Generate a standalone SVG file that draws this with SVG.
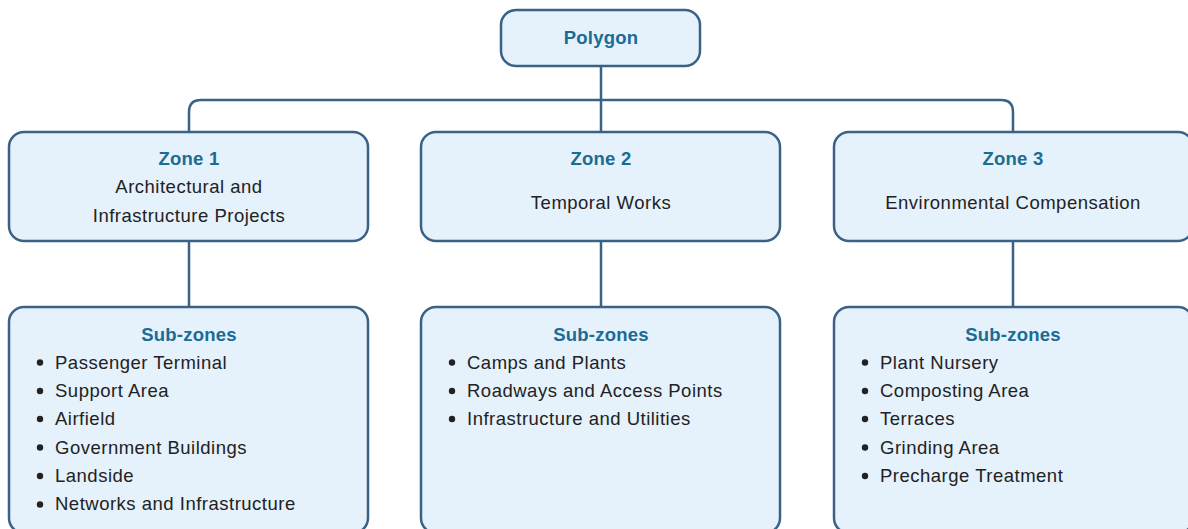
<svg xmlns="http://www.w3.org/2000/svg" width="1188" height="529" viewBox="0 0 1188 529">
<style>
.box{fill:#e5f1fb;stroke:#3a6186;stroke-width:2.5}
.line{fill:none;stroke:#3a6186;stroke-width:2.5}
.title{font-family:"Liberation Sans",Arial,sans-serif;font-weight:bold;font-size:18.5px;letter-spacing:0.2px;fill:#1a6c93;text-anchor:middle}
.body{font-family:"Liberation Sans",Arial,sans-serif;font-size:18.5px;letter-spacing:0.5px;fill:#222}
.mid{text-anchor:middle}
.bul{fill:#222}
</style>
<rect width="1188" height="529" fill="#ffffff"/>
<g id="connectors">
<path class="line" d="M601 66 V132"/>
<path class="line" d="M189 132 V112 Q189 100 201 100 H1001 Q1013 100 1013 112 V132"/>
<path class="line" d="M189 241 V307"/>
<path class="line" d="M601 241 V307"/>
<path class="line" d="M1013 241 V307"/>
</g>
<g id="polygon">
<rect class="box" x="501" y="10" width="199" height="56" rx="15"/>
<text class="title" x="601" y="44">Polygon</text>
</g>
<g id="zone1">
<rect class="box" x="9" y="132" width="359" height="109" rx="15"/>
<text class="title" x="189" y="165">Zone 1</text>
<text class="body mid" x="189" y="193">Architectural and</text>
<text class="body mid" x="189" y="222">Infrastructure Projects</text>
</g>
<g id="zone2">
<rect class="box" x="421" y="132" width="359" height="109" rx="15"/>
<text class="title" x="601" y="165">Zone 2</text>
<text class="body mid" x="601" y="209">Temporal Works</text>
</g>
<g id="zone3">
<rect class="box" x="834" y="132" width="359" height="109" rx="15"/>
<text class="title" x="1013" y="165">Zone 3</text>
<text class="body mid" x="1013" y="209">Environmental Compensation</text>
</g>
<g id="subzones1">
<rect class="box" x="9" y="307" width="359" height="226" rx="15"/>
<text class="title" x="189" y="341">Sub-zones</text>
<g class="bul">
<circle cx="40" cy="362.5" r="3.2"/><circle cx="40" cy="391" r="3.2"/><circle cx="40" cy="419" r="3.2"/><circle cx="40" cy="447.5" r="3.2"/><circle cx="40" cy="476" r="3.2"/><circle cx="40" cy="504.5" r="3.2"/>
</g>
<text class="body" x="55" y="369">Passenger Terminal</text>
<text class="body" x="55" y="397">Support Area</text>
<text class="body" x="55" y="425">Airfield</text>
<text class="body" x="55" y="454">Government Buildings</text>
<text class="body" x="55" y="482">Landside</text>
<text class="body" x="55" y="510">Networks and Infrastructure</text>
</g>
<g id="subzones2">
<rect class="box" x="421" y="307" width="359" height="226" rx="15"/>
<text class="title" x="601" y="341">Sub-zones</text>
<g class="bul">
<circle cx="452" cy="362.5" r="3.2"/><circle cx="452" cy="391" r="3.2"/><circle cx="452" cy="419" r="3.2"/>
</g>
<text class="body" x="467" y="369">Camps and Plants</text>
<text class="body" x="467" y="397">Roadways and Access Points</text>
<text class="body" x="467" y="425">Infrastructure and Utilities</text>
</g>
<g id="subzones3">
<rect class="box" x="834" y="307" width="359" height="226" rx="15"/>
<text class="title" x="1013" y="341">Sub-zones</text>
<g class="bul">
<circle cx="865" cy="362.5" r="3.2"/><circle cx="865" cy="391" r="3.2"/><circle cx="865" cy="419" r="3.2"/><circle cx="865" cy="447.5" r="3.2"/><circle cx="865" cy="476" r="3.2"/>
</g>
<text class="body" x="880" y="369">Plant Nursery</text>
<text class="body" x="880" y="397">Composting Area</text>
<text class="body" x="880" y="425">Terraces</text>
<text class="body" x="880" y="454">Grinding Area</text>
<text class="body" x="880" y="482">Precharge Treatment</text>
</g>
</svg>
